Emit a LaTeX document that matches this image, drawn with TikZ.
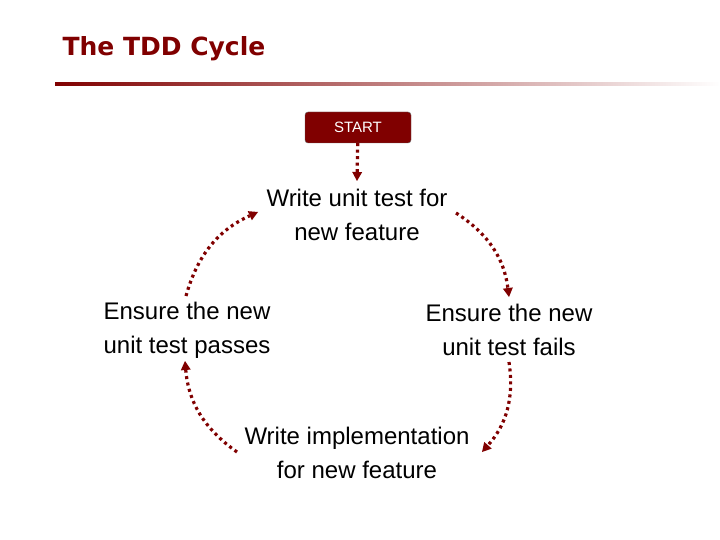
\documentclass[tikz,border=0pt]{standalone}
\usepackage{fontspec}
\setmainfont{Liberation Sans}
\newfontfamily\titlefont{DejaVu Sans}
\usetikzlibrary{arrows.meta,fadings}
\definecolor{tddred}{RGB}{128,0,0}
\begin{document}
\begin{tikzpicture}[x=1pt,y=-1pt,
    cyc/.style={draw=tddred,line width=3.2pt,dash pattern=on 3pt off 3.5pt,-{Triangle[length=9pt,width=10pt,line width=0pt]}},
    step box/.style={align=center,font=\fontsize{24}{34}\selectfont}]
    \useasboundingbox (0,0) rectangle (720,540);
    \node[anchor=west,text=tddred,font=\titlefont\bfseries\fontsize{25}{28}\selectfont] (title) at (59,49) {The TDD Cycle};
    \fill[tddred,path fading=east] (55,82) rectangle (720,86);
    \node[fill=tddred,draw=black!60,rounded corners=3pt,minimum width=106pt,minimum height=31pt,text=white,font=\fontsize{15}{17}\selectfont] (start) at (358,127.5) {START};
    \node[step box] (write) at (357,215) {Write unit test for\\new feature};
    \node[step box] (fails) at (509,330) {Ensure the new\\unit test fails};
    \node[step box] (impl) at (357,453) {Write implementation\\for new feature};
    \node[step box] (passes) at (187,330) {Ensure the new\\unit test passes};
    % connectors
    \draw[cyc] (start) -- (357,181);
    \draw[cyc] (456,213) to[bend left=25] (509,297);
    \draw[cyc] (509,362) to[bend left=25] (482,452);
    \draw[cyc] (237,452) to[bend left=25] (185,361);
    \draw[cyc] (186,296) to[bend left=25] (258,212);
\end{tikzpicture}
\end{document}
